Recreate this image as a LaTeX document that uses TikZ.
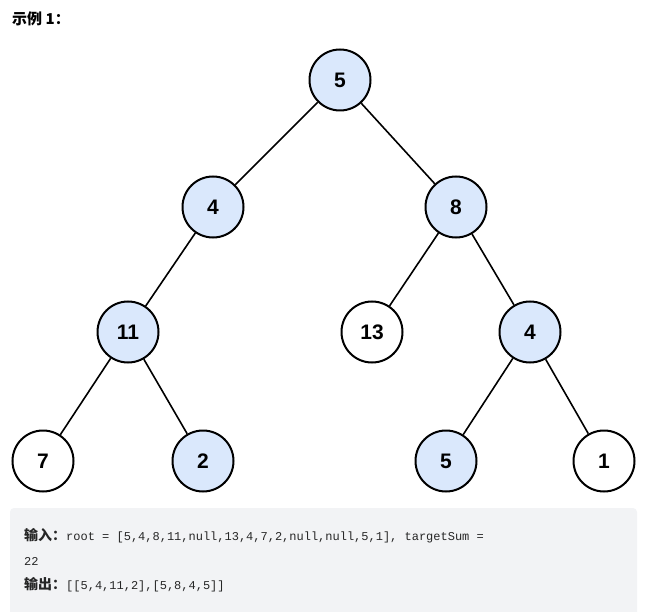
\documentclass[tikz,border=0pt]{standalone}
\usepackage{fontspec}
\setmainfont{Liberation Sans}
\setmonofont{Liberation Mono}
\newfontfamily\cjk{Noto Sans CJK SC}
\usepackage{xcolor}
\usepackage{tikz}

\definecolor{nodeblue}{HTML}{DAE8FC}
\definecolor{codebg}{HTML}{F2F3F5}
\definecolor{codetext}{HTML}{262626}

\begin{document}
\begin{tikzpicture}[x=1pt,y=-1pt,
  onpath/.style={circle,draw,line width=2pt,minimum size=61pt,inner sep=0pt,
    fill=nodeblue,font=\bfseries\fontsize{21}{21}\selectfont},
  offpath/.style={onpath,fill=white},
  edge/.style={line width=1.6pt},
  codeline/.style={anchor=base west,inner sep=0pt,text=codetext,
    font=\ttfamily\fontsize{12}{12}\selectfont},
  cjklabel/.style={font=\cjk\bfseries\fontsize{15}{15}\selectfont}]
  \useasboundingbox (0,0) rectangle (650,612);
  % title
  \node[anchor=base west,inner sep=0pt,cjklabel] (title) at (12,25) {示例 1：};
  % tree
  \node[onpath] (r) at (340,80) {5};
  \node[onpath] (a) at (213,207) {4};
  \node[onpath] (b) at (456,207) {8};
  \node[onpath] (aa) at (128,332) {11};
  \node[offpath] (ba) at (372,332) {13};
  \node[onpath] (bb) at (530,332) {4};
  \node[offpath] (aaa) at (43,461) {7};
  \node[onpath] (aab) at (203,461) {2};
  \node[onpath] (bba) at (446,461) {5};
  \node[offpath] (bbb) at (604,461) {1};
  \draw[edge] (r) -- (a);
  \draw[edge] (r) -- (b);
  \draw[edge] (a) -- (aa);
  \draw[edge] (b) -- (ba);
  \draw[edge] (b) -- (bb);
  \draw[edge] (aa) -- (aaa);
  \draw[edge] (aa) -- (aab);
  \draw[edge] (bb) -- (bba);
  \draw[edge] (bb) -- (bbb);
  % example box
  \fill[codebg] (10,612) [rounded corners=4pt] -- (10,508) -- (637,508)
    [sharp corners] -- (637,612) -- cycle;
  \node[codeline] (input) at (24,540)
    {{\cjk\bfseries\fontsize{14}{14}\selectfont 输入：}root = [5,4,8,11,null,13,4,7,2,null,null,5,1], targetSum =};
  \node[codeline] (input2) at (24,565) {22};
  \node[codeline] (output) at (24,589)
    {{\cjk\bfseries\fontsize{14}{14}\selectfont 输出：}[[5,4,11,2],[5,8,4,5]]};
\end{tikzpicture}
\end{document}
